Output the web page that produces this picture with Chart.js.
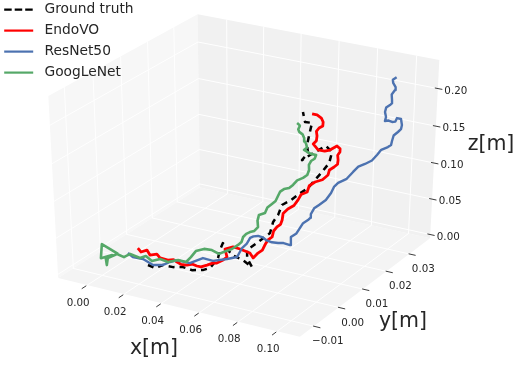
<!DOCTYPE html>
<html><head><meta charset="utf-8">
<style>html,body{margin:0;padding:0;background:#fff}canvas{display:block}</style>
<script src="https://cdn.jsdelivr.net/npm/chart.js@4"></script>
</head><body><canvas id="c" width="520" height="370"></canvas>
<script>
const xTicks=[0,0.02,0.04,0.06,0.08,0.10];
const yTicks=[-0.01,0,0.01,0.02,0.03];
const zTicks=[0,0.05,0.10,0.15,0.20];
const xLim=[-0.0159,0.1115], yLim=[-0.0155,0.0393], zLim=[-0.0053,0.2374];

const gtX=[.0203,.0236,.0263,.0306,.0345,.0386,.0429,.0454,.0471,.0466,.0467,.0522,.0573,.0620,.0586,.0574,.0602,.0639,.0634,.0643,.0643,.0672,.0694,.0721,.0734,.0752,.0766,.0761,.0727,.0678,.0654,.0667,.0650,.0642,.0636,.0607,.0584];
const gtY=[-.0067,-.0064,-.0052,-.0045,-.0035,-.0030,-.0019,-.0009,.0010,.0021,.0032,.0027,.0032,.0033,.0039,.0048,.0066,.0090,.0106,.0119,.0134,.0149,.0163,.0179,.0193,.0211,.0229,.0244,.0245,.0219,.0205,.0219,.0228,.0245,.0258,.0252,.0261];
const gtZ=[.0135,.0105,.0135,.0114,.0114,.0084,.0084,.0105,.0206,.0287,.0358,.0237,.0186,.0114,.0206,.0287,.0358,.0460,.0572,.0643,.0744,.0795,.0856,.0917,.0988,.1080,.1171,.1283,.1344,.1252,.1201,.1273,.1354,.1486,.1577,.1587,.1689];

const endoX=[.0137,.0155,.0176,.0196,.0222,.0240,.0275,.0298,.0314,.0332,.0358,.0382,.0399,.0414,.0438,.0460,.0474,.0494,.0505,.0485,.0513,.0544,.0590,.0610,.0622,.0636,.0637,.0640,.0653,.0650,.0657,.0668,.0667,.0660,.0673,.0692,.0699,.0703,.0723,.0722,.0739,.0765,.0780,.0778,.0792,.0802,.0797,.0788,.0792,.0790,.0771,.0749,.0730,.0702,.0673,.0682,.0676,.0666,.0672,.0685,.0679,.0668,.0644,.0623];
const endoY=[-.0058,-.0059,-.0051,-.0054,-.0046,-.0047,-.0042,-.0037,-.0035,-.0033,-.0029,-.0024,-.0020,-.0015,-.0009,-.0003,.0003,.0013,.0020,.0027,.0038,.0042,.0047,.0045,.0055,.0062,.0071,.0080,.0088,.0096,.0104,.0110,.0117,.0126,.0135,.0145,.0156,.0165,.0174,.0183,.0193,.0203,.0214,.0221,.0229,.0235,.0241,.0246,.0252,.0254,.0256,.0244,.0238,.0233,.0235,.0241,.0248,.0253,.0259,.0264,.0270,.0271,.0272,.0268];
const endoZ=[.0308,.0267,.0287,.0237,.0247,.0206,.0186,.0195,.0166,.0140,.0135,.0150,.0125,.0110,.0135,.0160,.0155,.0186,.0216,.0298,.0318,.0298,.0257,.0206,.0257,.0290,.0338,.0385,.0419,.0480,.0521,.0550,.0592,.0655,.0704,.0740,.0795,.0850,.0876,.0940,.0978,.1000,.1049,.1100,.1130,.1160,.1201,.1250,.1283,.1320,.1344,.1303,.1290,.1303,.1364,.1400,.1445,.1490,.1526,.1550,.1587,.1630,.1658,.1669];

const resX=[.0105,.0131,.0174,.0223,.0263,.0286,.0311,.0367,.0411,.0455,.0508,.0545,.0551,.0563,.0567,.0578,.0596,.0618,.0634,.0660,.0686,.0708,.0737,.0728,.0744,.0750,.0755,.0770,.0776,.0772,.0776,.0790,.0810,.0820,.0822,.0832,.0860,.0875,.0888,.0910,.0932,.0944,.0953,.0975,.0985,.0982,.0980,.0992,.1000,.0997,.0984,.0967,.0965,.0953,.0938,.0923,.0922,.0910,.0908,.0919,.0925,.0919,.0908,.0916,.0915,.0897,.0890,.0903];
const resY=[-.0073,-.0073,-.0065,-.0062,-.0052,-.0042,-.0033,-.0024,-.0005,.0002,.0018,.0030,.0045,.0055,.0065,.0070,.0075,.0077,.0078,.0082,.0087,.0092,.0096,.0106,.0116,.0125,.0134,.0142,.0147,.0152,.0162,.0171,.0183,.0196,.0206,.0215,.0228,.0242,.0253,.0263,.0274,.0285,.0295,.0305,.0310,.0316,.0324,.0332,.0338,.0344,.0350,.0347,.0342,.0338,.0335,.0332,.0337,.0342,.0348,.0355,.0359,.0363,.0370,.0377,.0380,.0384,.0388,.0393];
const resZ=[.0257,.0216,.0196,.0135,.0135,.0166,.0186,.0155,.0206,.0176,.0196,.0216,.0308,.0352,.0409,.0425,.0430,.0418,.0389,.0364,.0358,.0358,.0338,.0419,.0455,.0511,.0560,.0592,.0615,.0653,.0710,.0744,.0795,.0866,.0928,.0968,.1010,.1080,.1135,.1161,.1195,.1252,.1305,.1333,.1355,.1394,.1450,.1486,.1515,.1557,.1618,.1628,.1590,.1587,.1605,.1597,.1640,.1689,.1735,.1760,.1780,.1811,.1865,.1912,.1945,.1983,.2015,.2044];

const gooX=[.0067,-.0012,.0006,.0045,.0027,.0040,.0033,.0063,.0096,.0115,.0161,.0181,.0213,.0242,.0278,.0315,.0350,.0362,.0372,.0401,.0434,.0468,.0492,.0512,.0530,.0540,.0538,.0545,.0558,.0573,.0582,.0570,.0567,.0588,.0590,.0602,.0612,.0614,.0615,.0627,.0645,.0656,.0666,.0685,.0698,.0697,.0688,.0691,.0702,.0702,.0675,.0646,.0655,.0645,.0635,.0628,.0618,.0599,.0590,.0593,.0590,.0577];
const gooY=[-.0084,-.0089,-.0106,-.0091,-.0102,-.0108,-.0099,-.0085,-.0082,-.0072,-.0067,-.0059,-.0059,-.0048,-.0044,-.0032,-.0026,-.0016,-.0004,.0007,.0013,.0016,.0026,.0034,.0045,.0051,.0059,.0066,.0071,.0077,.0085,.0092,.0100,.0108,.0116,.0125,.0132,.0140,.0148,.0154,.0161,.0168,.0177,.0186,.0193,.0201,.0207,.0213,.0219,.0225,.0224,.0219,.0224,.0228,.0231,.0233,.0234,.0235,.0238,.0242,.0243,.0243];
const gooZ=[.0247,.0348,.0206,.0237,.0196,.0135,.0206,.0247,.0216,.0247,.0206,.0226,.0176,.0196,.0166,.0186,.0166,.0216,.0277,.0298,.0287,.0247,.0277,.0298,.0338,.0370,.0419,.0450,.0470,.0480,.0521,.0585,.0643,.0663,.0720,.0755,.0785,.0836,.0880,.0907,.0915,.0948,.0995,.1019,.1050,.1100,.1150,.1191,.1215,.1252,.1255,.1303,.1330,.1364,.1385,.1425,.1465,.1486,.1510,.1547,.1555,.1577];

const FONT='"DejaVu Sans"', INK='#262626';
const DIST=10,
 U=[0.8660254,0.5,0],V=[-0.25,0.4330127,0.8660254],W=[0.4330127,-0.75,0.5];
const cube=(v,l)=>(v-l[0])/(l[1]-l[0])-0.5;
const dot=(a,q)=>a[0]*q[0]+a[1]*q[1]+a[2]*q[2];
function project(x,y,z){
  const q=[cube(x,xLim),cube(y,yLim),cube(z,zLim)];
  const f=DIST/(DIST-dot(W,q));
  return {x:dot(U,q)*f,y:dot(V,q)*f};
}
const path=(xs,ys,zs)=>xs.map((v,i)=>project(v,ys[i],zs[i]));
const GAP={x:NaN,y:NaN};
const [x0,x1]=xLim,[y0,y1]=yLim,[z0,z1]=zLim;
const poly=pts=>pts.map(p=>project(...p));
const grid=[];
xTicks.forEach(t=>grid.push(...poly([[t,y0,z0],[t,y1,z0],[t,y1,z1]]),GAP));
yTicks.forEach(t=>grid.push(...poly([[x1,t,z0],[x0,t,z0],[x0,t,z1]]),GAP));
zTicks.forEach(t=>grid.push(...poly([[x0,y0,t],[x0,y1,t],[x1,y1,t]]),GAP));
const dx=x1-x0,dy=y1-y0;
const marks=[];
xTicks.forEach(t=>marks.push(...poly([[t,y0-0.006*dy,z0],[t,y0-0.036*dy,z0]]),GAP));
yTicks.forEach(t=>marks.push(...poly([[x1-0.003*dx,t,z0],[x1+0.026*dx,t,z0]]),GAP));
zTicks.forEach(t=>marks.push(...poly([[x1-0.012*dx,y1,t],[x1+0.018*dx,y1,t]]),GAP));

const pane=(pts,color,order)=>({data:poly(pts),showLine:true,fill:'shape',backgroundColor:color,borderWidth:0,pointRadius:0,order,clip:false});
const line=(label,xs,ys,zs,color,w,order,dash)=>({label,data:path(xs,ys,zs),showLine:true,fill:false,borderColor:color,backgroundColor:color,borderWidth:w,borderDash:dash||[],borderJoinStyle:'round',pointRadius:0,tension:0,order});

const labelFmt=(t,d)=>(t<0?'\u2212':'')+Math.abs(t).toFixed(d);
const annot={id:'annot',
  beforeLayout(chart){
    const lg=chart.legend;
    lg._layers=()=>[{z:10,draw:a=>lg.draw(a)}];
  },
  afterLayout(chart){chart.legend.top=-4.5;chart.legend.left=-3;},
  afterDatasetsDraw(chart){
    const {ctx,scales:{x,y}}=chart;
    const at=(p,ox,oy)=>[x.getPixelForValue(p.x)+ox,y.getPixelForValue(p.y)+oy];
    ctx.save();ctx.fillStyle=INK;ctx.textAlign='center';ctx.textBaseline='middle';
    ctx.font='10.3px '+FONT;
    xTicks.forEach(t=>{const [a,b]=at(project(t,y0,z0),-9,18);ctx.fillText(labelFmt(t,2),a,b);});
    yTicks.forEach(t=>{const [a,b]=at(project(x1,t,z0),14,15.5);ctx.fillText(labelFmt(t,2),a,b);});
    zTicks.forEach(t=>{const [a,b]=at(project(x1,y1,t),18,2.5);ctx.fillText(labelFmt(t,2),a,b);});
    ctx.font='20.5px '+FONT;
    ctx.fillText('x[m]',154,349);ctx.fillText('y[m]',403,322);ctx.fillText('z[m]',491,145);
    ctx.restore();
  }};

new Chart(document.getElementById('c'),{
  type:'scatter',
  data:{datasets:[
    line('Ground truth',gtX,gtY,gtZ,'#000000',2.5,4,[6,5]),
    line('EndoVO',endoX,endoY,endoZ,'#ff0000',2.8,3),
    line('ResNet50',resX,resY,resZ,'#4c72b0',2.4,2),
    line('GoogLeNet',gooX,gooY,gooZ,'#55a868',2.6,1),
    {data:marks,showLine:true,borderColor:INK,borderWidth:0.9,pointRadius:0,order:5,clip:false},
    {data:grid,showLine:true,borderColor:'#ffffff',borderWidth:1,pointRadius:0,order:6},
    pane([[x0,y0,z0],[x0,y1,z0],[x0,y1,z1],[x0,y0,z1]],'#f7f7f7',8),
    pane([[x0,y1,z0],[x1,y1,z0],[x1,y1,z1],[x0,y1,z1]],'#f1f1f1',7),
    pane([[x0,y0,z0],[x1,y0,z0],[x1,y1,z0],[x0,y1,z0]],'#f4f4f4',7.5)
  ]},
  options:{
    responsive:false,animation:false,
    layout:{padding:0},
    scales:{
      x:{type:'linear',min:-0.8853,max:0.9785,display:false},
      y:{type:'linear',min:-0.9615,max:0.8173,display:false}
    },
    plugins:{
      tooltip:{enabled:false},
      legend:{display:true,position:'chartArea',align:'start',
        labels:{usePointStyle:true,pointStyle:'line',pointStyleWidth:29,padding:7.2,color:INK,
          font:{family:FONT,size:13.8},
          sort:(a,b)=>a.datasetIndex-b.datasetIndex,
          generateLabels(chart){
            return Chart.defaults.plugins.legend.labels.generateLabels(chart).map(i=>{
              if(i.text){i.lineDash=i.datasetIndex===0?[7.5,3]:[];i.text='\u00A0'+i.text;i.lineWidth=2.2;}
              return i;});
          },
          filter:i=>!!i.text
        }}
    }
  },
  plugins:[annot]
});
</script></body></html>
